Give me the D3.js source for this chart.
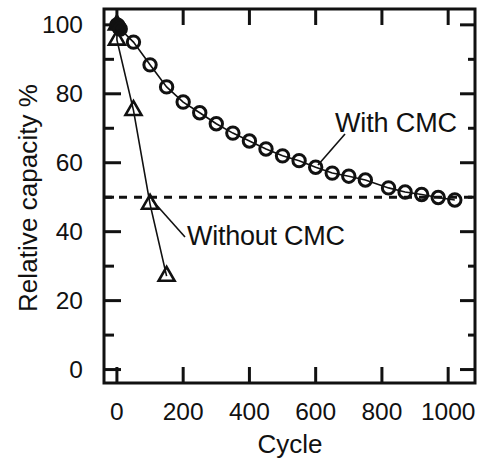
<!DOCTYPE html>
<html><head><meta charset="utf-8">
<script src="https://cdn.jsdelivr.net/npm/d3@7"></script>
<style>body{margin:0;background:#fff}svg{display:block}text{font-family:"Liberation Sans",Arial,sans-serif;fill:#111}</style>
</head><body>
<script>
// data
const cmcCycles = [0, 3, 6, 10, 50, 100, 150, 200, 250, 300, 350, 400, 450, 500, 550, 600, 650, 700, 750, 820, 870, 920, 970, 1020];
const cmcValues = [100, 99.8, 99.3, 98.8, 95.0, 88.4, 82.0, 77.6, 74.5, 71.3, 68.6, 66.3, 64.0, 62.0, 60.6, 58.7, 57.0, 56.1, 55.0, 52.7, 51.5, 50.8, 49.9, 49.2];
const noCycles = [0, 0, 50, 100, 150];
const noValues = [100, 95.6, 75.2, 48.0, 27.1];
const xTicks = [0, 200, 400, 600, 800, 1000];
const yTicks = [0, 20, 40, 60, 80, 100];
const yMinor = [10, 30, 50, 70, 90];
const refLevel = 50;

const W = 479, H = 464;
const L = 104, R = 475, T = 9, B = 383;
const svg = d3.select("body").append("svg").attr("width", W).attr("height", H);
const x = d3.scaleLinear().domain([-39, 1081]).range([L, R]);
const y = d3.scaleLinear().domain([-3.9, 104.6]).range([B, T]);

const ink = "#111";
// ticks (inward) on all sides
const g = svg.append("g").attr("stroke", ink).attr("stroke-width", 3);
xTicks.forEach(v => {
  g.append("line").attr("x1", x(v)).attr("x2", x(v)).attr("y1", B).attr("y2", B - 16);
  g.append("line").attr("x1", x(v)).attr("x2", x(v)).attr("y1", T).attr("y2", T + 16);
});
yTicks.forEach(v => {
  g.append("line").attr("y1", y(v)).attr("y2", y(v)).attr("x1", L).attr("x2", L + 17);
  g.append("line").attr("y1", y(v)).attr("y2", y(v)).attr("x1", R).attr("x2", R - 15);
});
yMinor.forEach(v => {
  g.append("line").attr("y1", y(v)).attr("y2", y(v)).attr("x1", L).attr("x2", L + 10);
  g.append("line").attr("y1", y(v)).attr("y2", y(v)).attr("x1", R).attr("x2", R - 7);
});
// frame
svg.append("rect").attr("x", L).attr("y", T).attr("width", R - L).attr("height", B - T)
  .attr("fill", "none").attr("stroke", ink).attr("stroke-width", 3);

// tick labels
xTicks.forEach(v => svg.append("text").attr("x", x(v)).attr("y", 420).attr("text-anchor", "middle")
  .attr("font-size", 24.5).text(v));
yTicks.forEach(v => svg.append("text").attr("x", 83).attr("y", y(v) + 8.5).attr("text-anchor", "end")
  .attr("font-size", 24.5).text(v));
// axis titles
svg.append("text").attr("x", 290).attr("y", 453).attr("text-anchor", "middle").attr("font-size", 26).text("Cycle");
svg.append("text").attr("transform", "translate(37,198) rotate(-90)").attr("text-anchor", "middle")
  .attr("font-size", 26).attr("textLength", 228).text("Relative capacity %");

// dashed reference line
svg.append("line").attr("x1", L).attr("x2", R).attr("y1", y(refLevel)).attr("y2", y(refLevel))
  .attr("stroke", ink).attr("stroke-width", 3).attr("stroke-dasharray", "8,7");

const line = d3.line().x(d => x(d[0])).y(d => y(d[1]));
const cmc = cmcCycles.map((c, i) => [c, cmcValues[i]]);
const noc = noCycles.map((c, i) => [c, noValues[i]]);

svg.append("path").datum(cmc).attr("d", line).attr("fill", "none").attr("stroke", ink).attr("stroke-width", 1.6);
svg.append("path").datum(noc).attr("d", line).attr("fill", "none").attr("stroke", ink).attr("stroke-width", 1.6);

const tri = d3.symbol().type(d3.symbolTriangle).size(110);
svg.selectAll("path.t").data(noc).enter().append("path")
  .attr("d", tri).attr("transform", d => `translate(${x(d[0])},${y(d[1])})`)
  .attr("fill", "none").attr("stroke", ink).attr("stroke-width", 2.6);

// overlapping early points render as a dense blob
svg.selectAll("circle.c").data(cmc).enter().append("circle")
  .attr("cx", d => x(d[0])).attr("cy", d => y(d[1])).attr("r", 6.2)
  .attr("fill", (d, i) => i === 1 ? ink : "none").attr("stroke", ink).attr("stroke-width", 3);

// annotations
svg.append("line").attr("x1", 318).attr("y1", 165).attr("x2", 345).attr("y2", 134).attr("stroke", ink).attr("stroke-width", 1.6);
svg.append("text").attr("x", 335).attr("y", 132).attr("font-size", 27).attr("textLength", 122).text("With CMC");
svg.append("line").attr("x1", 152).attr("y1", 200).attr("x2", 185).attr("y2", 237).attr("stroke", ink).attr("stroke-width", 1.6);
svg.append("text").attr("x", 187).attr("y", 245).attr("font-size", 27).attr("textLength", 158).text("Without CMC");
</script>
</body></html>
